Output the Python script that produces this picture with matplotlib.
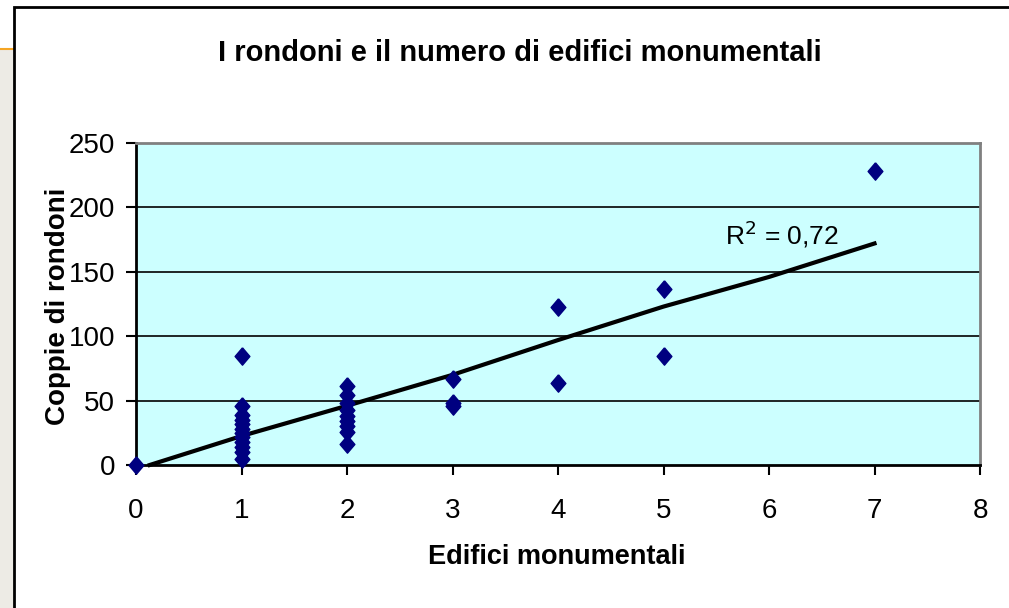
import matplotlib
matplotlib.use("Agg")
from matplotlib import pyplot as plt
from matplotlib.patches import Rectangle
from matplotlib.lines import Line2D

# data
edifici = [0,
           1, 1, 1, 1, 1, 1, 1, 1, 1, 1, 1, 1,
           2, 2, 2, 2, 2, 2, 2, 2, 2,
           3, 3, 3,
           4, 4,
           5, 5,
           7]
coppie = [0,
          85, 46, 39, 35, 32, 28, 25, 22, 18, 14, 10, 5,
          61, 54, 48, 43, 38, 34, 30, 26, 16,
          67, 48, 46,
          123, 64,
          137, 85,
          228]
# trend line as drawn in the picture
trend_x = [0.13, 1, 2, 3, 4, 5, 6, 7]
trend_y = [0, 22.5, 46, 70, 97, 123, 146, 172]
r2_text = "R$^2$ = 0,72"

title = "I rondoni e il numero di edifici monumentali"
x_label = "Edifici monumentali"
y_label = "Coppie di rondoni"
x_ticks = [0, 1, 2, 3, 4, 5, 6, 7, 8]
y_ticks = [0, 50, 100, 150, 200, 250]

plt.rcParams["font.family"] = ["Liberation Sans", "DejaVu Sans"]

W, H = 1009, 608
fig = plt.figure(figsize=(W / 100, H / 100), dpi=100)

# slide background strip on the left
fig.patches.append(Rectangle((0, 0), 14 / W, 1 - 49 / H, transform=fig.transFigure,
                             facecolor="#EDEBE5", edgecolor="none", zorder=0))
fig.lines.append(Line2D([0, 14 / W], [1 - 49 / H, 1 - 49 / H], transform=fig.transFigure,
                        color="#F5A524", lw=1.5, zorder=1))
# chart frame (runs off right and bottom)
fig.patches.append(Rectangle((13.5 / W, -0.1), 1.2, 1.1 - 7.5 / H, transform=fig.transFigure,
                             facecolor="white", edgecolor="black", lw=2, zorder=1))

ax = fig.add_axes([136 / W, 1 - 465 / H, (980 - 136) / W, (465 - 143) / H])
ax.set_zorder(2)
ax.set_facecolor("#CCFFFF")
ax.set_xlim(0, 8)
ax.set_ylim(0, 250)

for y in y_ticks[1:-1]:
    ax.axhline(y, color="black", lw=1.2, zorder=1)

ax.plot(trend_x, trend_y, color="black", lw=3, zorder=2, clip_on=False)

diamond = [(0, 1), (0.85, 0), (0, -1), (-0.85, 0), (0, 1)]
ax.plot(edifici, coppie, linestyle="none", marker=diamond, markersize=12.5,
        color="#000080", zorder=3, clip_on=False)

ax.text(5.58, 179, r2_text, fontsize=19, va="center", ha="left", zorder=4)

ax.set_xticks(x_ticks)
ax.set_yticks(y_ticks)
ax.tick_params(axis="both", direction="out", length=7, width=1.5, color="black",
               labelsize=20)
ax.tick_params(axis="x", pad=17)
ax.tick_params(axis="y", pad=8)

for s in ["left", "bottom"]:
    ax.spines[s].set_color("black")
    ax.spines[s].set_linewidth(2)
for s in ["top", "right"]:
    ax.spines[s].set_color("#808080")
    ax.spines[s].set_linewidth(2)

fig.text(520 / W, 1 - 53 / H, title, fontsize=21, fontweight="bold",
         ha="center", va="center")
fig.text(557 / W, 1 - 557 / H, x_label, fontsize=19.5, fontweight="bold",
         ha="center", va="center")
fig.text(58 / W, 1 - 306 / H, y_label, fontsize=20, fontweight="bold", rotation=90,
         ha="center", va="center")

fig.savefig("out.png", dpi=100)
